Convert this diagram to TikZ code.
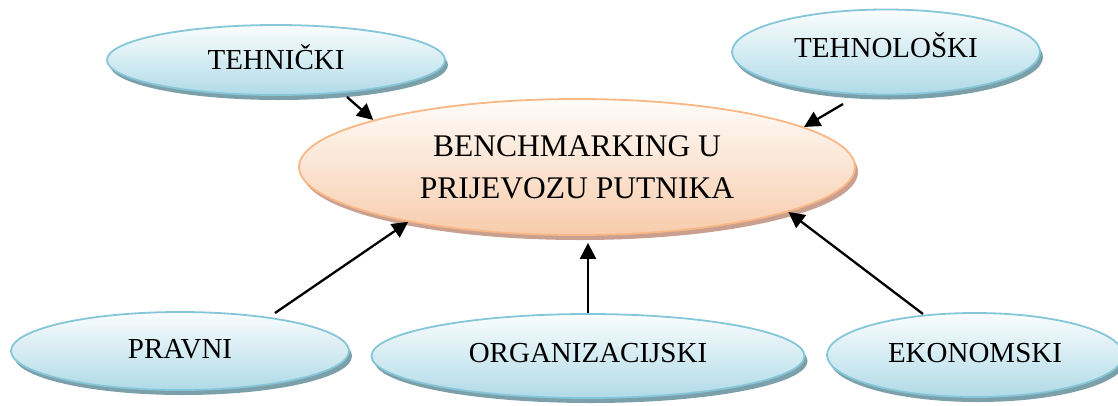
\documentclass[tikz,border=0pt]{standalone}
\usepackage{fontspec}
\setmainfont{Liberation Serif}
\usetikzlibrary{shapes.geometric,shadows,arrows.meta}
\definecolor{satborder}{RGB}{133,198,216}
\definecolor{sattop}{RGB}{250,253,254}
\definecolor{satbottom}{RGB}{176,218,231}
\definecolor{satshadow}{RGB}{124,160,170}
\definecolor{mainborder}{RGB}{249,183,133}
\definecolor{maintop}{RGB}{255,252,249}
\definecolor{mainbottom}{RGB}{247,204,172}
\definecolor{mainshadow}{RGB}{201,160,144}
\tikzset{
  satnode/.style={ellipse, draw=satborder, line width=1.8pt, top color=sattop, bottom color=satbottom,
    inner sep=0pt, font=\fontsize{29}{34}\selectfont, text height=20pt, text depth=5pt,
    drop shadow={shadow xshift=3pt, shadow yshift=-5pt, opacity=1, fill=satshadow}},
  mainnode/.style={ellipse, draw=mainborder, line width=1.8pt, top color=maintop, bottom color=mainbottom,
    inner sep=0pt, align=center, font=\fontsize{31.5}{42}\selectfont,
    drop shadow={shadow xshift=3pt, shadow yshift=-5pt, opacity=1, fill=mainshadow}},
  conn/.style={line width=2.3pt, -{Triangle[length=16pt,width=16pt]}}
}
\begin{document}
\begin{tikzpicture}[x=1pt,y=-1pt]
\useasboundingbox (0,0) rectangle (1118,405);
\node[mainnode, minimum width=556pt, minimum height=136pt] (main) at (577,167) {BENCHMARKING U\\PRIJEVOZU PUTNIKA};
\node[satnode, minimum width=338pt, minimum height=70pt, text depth=2pt] (teh) at (276,60) {TEHNIČKI};
\node[satnode, minimum width=308pt, minimum height=85pt, text depth=9pt] (tehno) at (886,52) {TEHNOLOŠKI};
\node[satnode, minimum width=338pt, minimum height=78pt] (prav) at (180,351) {PRAVNI};
\node[satnode, minimum width=433pt, minimum height=84pt, text depth=7pt] (org) at (588,356) {ORGANIZACIJSKI};
\node[satnode, minimum width=296pt, minimum height=84pt] (eko) at (975,355) {EKONOMSKI};
\coordinate (s1) at (347,97);
\coordinate (s2) at (843,104);
\coordinate (s3) at (275,313);
\coordinate (s5) at (923,314);
\draw[conn] (s1) -- (main.167.1);
\draw[conn] (s2) -- (main.10.3);
\draw[conn] (s3) -- (main.198.2);
\draw[conn, shorten >=7pt] (org.north) -- (org.north |- main.south);
\draw[conn] (s5) -- (main.-12.2);
\end{tikzpicture}
\end{document}
